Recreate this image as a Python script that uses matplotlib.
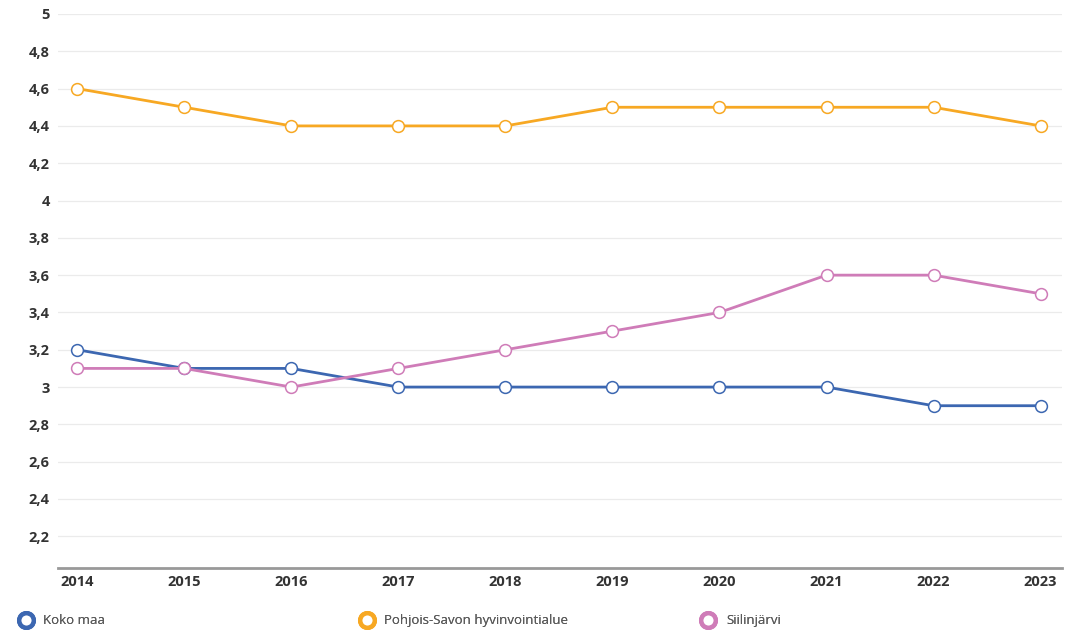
import matplotlib.pyplot as plt
from matplotlib.lines import Line2D
from matplotlib.ticker import FuncFormatter

plt.rcParams['font.family'] = ['Open Sans', 'DejaVu Sans']

# data
years = [2014, 2015, 2016, 2017, 2018, 2019, 2020, 2021, 2022, 2023]
koko_maa = [3.2, 3.1, 3.1, 3.0, 3.0, 3.0, 3.0, 3.0, 2.9, 2.9]
pohjois_savo = [4.6, 4.5, 4.4, 4.4, 4.4, 4.5, 4.5, 4.5, 4.5, 4.4]
siilinjarvi = [3.1, 3.1, 3.0, 3.1, 3.2, 3.3, 3.4, 3.6, 3.6, 3.5]
series_names = ['Koko maa', 'Pohjois-Savon hyvinvointialue', 'Siilinjärvi']
y_ticks = [2.2, 2.4, 2.6, 2.8, 3, 3.2, 3.4, 3.6, 3.8, 4, 4.2, 4.4, 4.6, 4.8, 5]

colors = ['#3c67b1', '#f7a823', '#cf7cb8']

fig = plt.figure(figsize=(10.81, 6.30), dpi=100)
ax = fig.add_axes([0.0537, 0.0984, 0.9287, 0.8794])

for vals, c in zip([koko_maa, pohjois_savo, siilinjarvi], colors):
    ax.plot(years, vals, color=c, lw=2.0, marker='o', markersize=8.5,
            markerfacecolor='white', markeredgecolor=c, markeredgewidth=1.1,
            zorder=3, clip_on=False)

ax.set_xlim(2013.82, 2023.2)
ax.set_ylim(2.03, 5)
ax.set_xticks(years)
ax.set_yticks(y_ticks)
ax.yaxis.set_major_formatter(FuncFormatter(lambda v, p: ('%g' % round(v, 1)).replace('.', ',')))
ax.grid(axis='y', color='#ebebeb', lw=0.9)
ax.set_axisbelow(True)
for s in ['top', 'right', 'left']:
    ax.spines[s].set_visible(False)
ax.spines['bottom'].set_color('#999999')
ax.spines['bottom'].set_linewidth(2)
ax.tick_params(axis='both', length=0, labelsize=10.5, labelcolor='#333333')
ax.tick_params(axis='y', pad=6)
ax.tick_params(axis='x', pad=5)
for lab in ax.get_xticklabels() + ax.get_yticklabels():
    lab.set_fontweight('bold')

# legend: one entry per position
legend_x = [0.0176, 0.333, 0.649]
for c, name, lx in zip(colors, series_names, legend_x):
    h = Line2D([], [], ls='none', marker='o', markersize=10.5, markerfacecolor='white',
               markeredgecolor=c, markeredgewidth=3.2)
    leg = fig.legend([h], [name], loc='center left', bbox_to_anchor=(lx, 0.0143),
                     frameon=False, fontsize=9.5, labelcolor='#5a5a5a',
                     handletextpad=0.85, handlelength=1.0, borderpad=0, borderaxespad=0)
    fig.add_artist(leg)

fig.savefig('out.png', dpi=100)
